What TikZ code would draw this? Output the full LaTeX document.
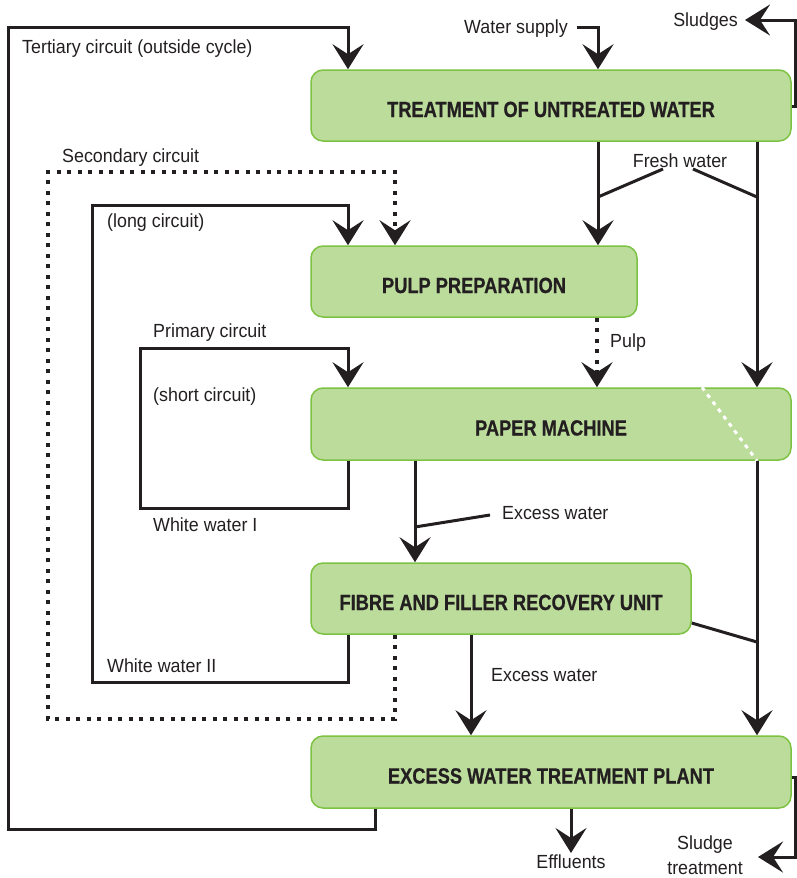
\documentclass[tikz,border=0pt]{standalone}
\usepackage{fontspec}
\setmainfont{Liberation Sans}[FakeStretch=0.94]
\newfontfamily\boxfont{Liberation Sans}[FakeStretch=0.83, FakeBold=0.6]
\usetikzlibrary{arrows.meta}
\definecolor{boxfill}{HTML}{BCDC9C}
\definecolor{boxline}{HTML}{7DC242}
\definecolor{ink}{HTML}{231F20}
\begin{document}
\begin{tikzpicture}[x=1pt,y=-1pt,
  box/.style={draw=boxline, fill=boxfill, line width=1.5pt, rounded corners=12pt,
    inner sep=0pt, text height=23pt, text depth=0pt,
    font=\boxfont\bfseries\fontsize{22}{26}\selectfont, text=ink},
  wire/.style={draw=ink, line width=3pt},
  arr/.style={wire, -{Stealth[length=25pt,width=31pt,inset=10pt]}},
  dotline/.style={dash pattern=on 4pt off 6.5pt, line width=3.5pt},
  lbl/.style={font=\fontsize{19}{22}\selectfont, text=ink, inner sep=0pt,
    anchor=west, text height=13.6pt, text depth=0pt, align=center}]
\path[use as bounding box] (0,0) rectangle (797,878);

% boxes
\node[box, minimum width=480pt, minimum height=71pt] (tw) at (551,105.5) {TREATMENT OF UNTREATED WATER};
\node[box, minimum width=326pt, minimum height=71pt] (pp) at (474,281.5) {PULP PREPARATION};
\node[box, minimum width=480pt, minimum height=72pt] (pm) at (551,424) {PAPER MACHINE};
\node[box, minimum width=380pt, minimum height=71pt] (fr) at (501,598.5) {FIBRE AND FILLER RECOVERY UNIT};
\node[box, minimum width=480pt, minimum height=72pt] (ex) at (551,772) {EXCESS WATER TREATMENT PLANT};

% white dotted line on paper machine
\draw[white, dotline, line width=3pt, dash pattern=on 4pt off 5pt] (pm.north -| 702,0) -- (pm.south -| 757,0);

% labels
\node[lbl] (tert) at (22,47) {Tertiary circuit (outside cycle)};
\node[lbl, anchor=east] (ws) at (568,27) {Water supply};
\node[lbl, anchor=east] (sl) at (738,20) {Sludges};
\node[lbl, anchor=center] (fw) at (680,161) {Fresh water};
\node[lbl] (sec) at (62,156) {Secondary circuit};
\node[lbl] (long) at (107,221) {(long circuit)};
\node[lbl] (prim) at (153,331) {Primary circuit};
\node[lbl] (short) at (153,395) {(short circuit)};
\node[lbl] (ww1) at (153,525) {White water I};
\node[lbl] (ww2) at (107,666) {White water II};
\node[lbl] (pulp) at (610,341) {Pulp};
\node[lbl] (xw1) at (502,513) {Excess water};
\node[lbl] (xw2) at (491,675) {Excess water};
\node[lbl, anchor=center] (eff) at (571,862) {Effluents};
\node[lbl, anchor=center] (st1) at (705,843) {Sludge};
\node[lbl, anchor=center] (st2) at (705,868) {treatment};

% tertiary circuit
\draw[arr] (ex.south -| 375,0) -- (375,829) -- (8,829) -- (8,27) -- (348,27) -- (tw.north -| 348,0);
% water supply
\draw[arr] ([xshift=9pt]ws.east) -- (598,27) -- (tw.north -| 598,0);
% sludges
\draw[arr] (tw.east |- 0,106) -- (795,106) -- (795,20) -- ([xshift=7pt]sl.east);
% fresh water
\draw[arr] (tw.south -| 598,0) -- (pp.north -| 598,0);
\draw[arr] (tw.south -| 757,0) -- (pm.north -| 757,0);
\coordinate (fwl) at (598,197);
\coordinate (fwr) at (757,197);
\draw[wire] (fwl) -- ([xshift=-17pt,yshift=-1pt]fw.south);
\draw[wire] (fwr) -- ([xshift=13pt,yshift=-1pt]fw.south);
% secondary circuit (dotted)
\draw[arr, dotline] (fr.south -| 395,0) -- (395,719) -- (48,719) -- (48,172) -- (395,172) -- (pp.north -| 395,0);
% long circuit
\draw[arr] (fr.south -| 348,0) -- (348,682) -- (92,682) -- (92,205) -- (348,205) -- (pp.north -| 348,0);
% primary circuit
\draw[arr] (pm.south -| 348,0) -- (348,508) -- (140,508) -- (140,348) -- (348,348) -- (pm.north -| 348,0);
% pulp
\draw[arr, dotline] (pp.south -| 597,0) -- (pm.north -| 597,0);
% excess water 1
\draw[arr] (pm.south -| 415,0) -- (fr.north -| 415,0);
\coordinate (xa) at (415,527);
\draw[wire] (xa) -- ([xshift=-12pt,yshift=-2pt]xw1.west);
% right line
\draw[arr] (pm.south -| 757,0) -- (ex.north -| 757,0);
\coordinate (xb) at (757,642);
\draw[wire] (fr.east |- 0,623) -- (xb);
% excess water 2
\draw[arr] (fr.south -| 471,0) -- (ex.north -| 471,0);
% effluents
\draw[arr] (ex.south -| 571,0) -- ([yshift=2pt]eff.north);
% sludge treatment
\draw[arr] (ex.east |- 0,777) -- (795,777) -- (795,857) -- (758,857);
\end{tikzpicture}
\end{document}
